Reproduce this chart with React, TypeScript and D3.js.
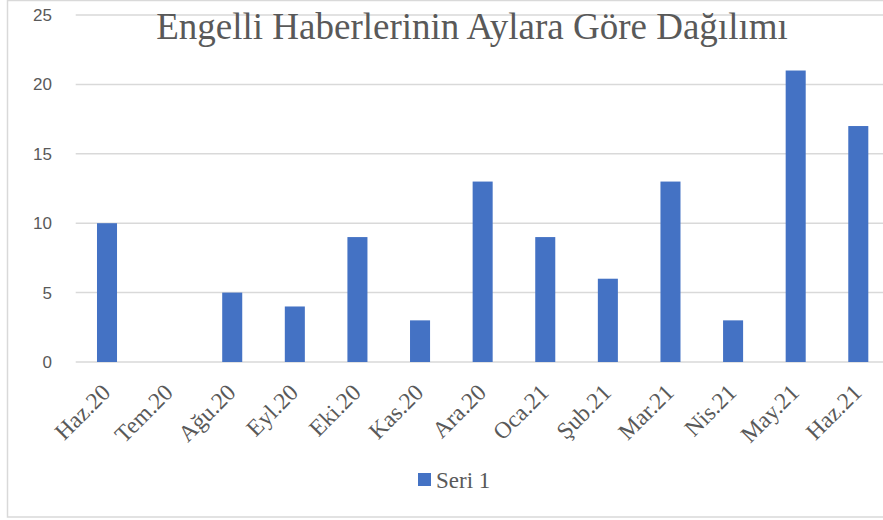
import React from "react";
import * as d3 from "d3";

const categories = ["Haz.20", "Tem.20", "Ağu.20", "Eyl.20", "Eki.20", "Kas.20", "Ara.20", "Oca.21", "Şub.21", "Mar.21", "Nis.21", "May.21", "Haz.21"];
const values = [10, 0, 5, 4, 9, 3, 13, 9, 6, 13, 3, 21, 17];
const yTicks = [0, 5, 10, 15, 20, 25];
const title = "Engelli Haberlerinin Aylara Göre Dağılımı";
const seriesName = "Seri 1";

export default function App() {
  const W = 883, H = 520;
  const x = d3.scaleBand<string>().domain(categories).range([75.7, 889.6]).paddingInner(0.68).paddingOuter(0.34);
  const y = d3.scaleLinear().domain([0, 25]).range([362, 15]);
  const serif = "'Liberation Serif', 'Times New Roman', serif";
  const sans = "'Liberation Sans', Arial, sans-serif";
  const grey = "#595959";
  return (
    <svg width={W} height={H} style={{ position: "absolute", left: 0, top: 0, background: "#fff" }}>
      <rect x={7.5} y={0.5} width={W + 20} height={516.5} fill="#fff" stroke="#d9d9d9" strokeWidth={1.5} />
      {yTicks.map((t) => (
        <g key={t}>
          <line x1={75.7} x2={W} y1={y(t)} y2={y(t)} stroke="#d9d9d9" strokeWidth={1.5} />
          <text x={52} y={y(t)} dy="0.35em" textAnchor="end" fontFamily={sans} fontSize={17} fill={grey}>{t}</text>
        </g>
      ))}
      {categories.map((c, i) => (
        <rect key={c} x={x(c)} y={y(values[i])} width={x.bandwidth()} height={y(0) - y(values[i])} fill="#4472c4" />
      ))}
      {categories.map((c) => {
        const cx = (x(c) as number) + x.bandwidth() / 2 - 1;
        const cy = 388;
        return (
          <text key={c} x={cx} y={cy} transform={`rotate(-45 ${cx} ${cy})`} textAnchor="end" fontFamily={serif} fontSize={23.5} fill={grey} dy="0.35em">{c}</text>
        );
      })}
      <text x={472} y={39} textAnchor="middle" fontFamily={serif} fontSize={37} fill={grey}>{title}</text>
      <rect x={418} y={473} width={13} height={13} fill="#4472c4" />
      <text x={436} y={488} fontFamily={serif} fontSize={23} fill={grey}>{seriesName}</text>
    </svg>
  );
}
